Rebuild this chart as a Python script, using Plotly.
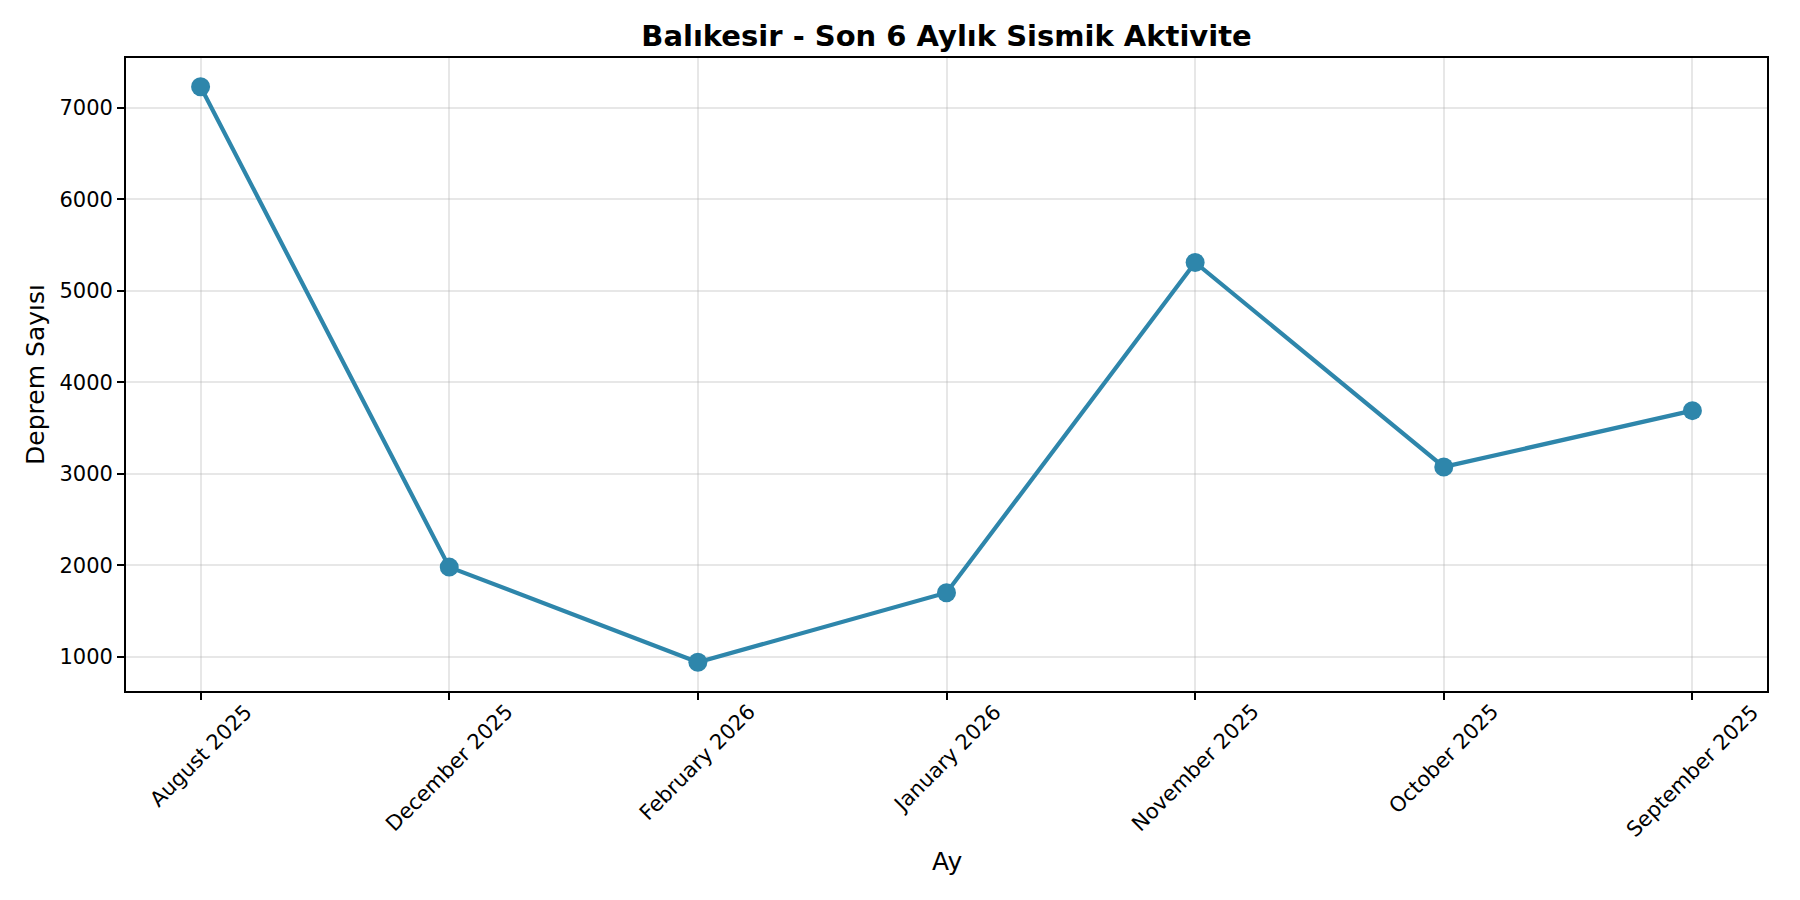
import plotly.graph_objects as go

# monthly earthquake counts, in the order the source chart lists them
months = ['August 2025', 'December 2025', 'February 2026', 'January 2026',
          'November 2025', 'October 2025', 'September 2025']
counts = [7230, 1980, 940, 1700, 5310, 3075, 3690]

line_color = '#2E86AB'
font_family = 'DejaVu Sans'

fig = go.Figure()
fig.add_trace(go.Scatter(
    x=months,
    y=counts,
    mode='lines+markers',
    line=dict(color=line_color, width=4.2),
    marker=dict(color=line_color, size=19),
    showlegend=False,
))

# --- rotated tick labels centred under each tick, like matplotlib ---
for m in months:
    fig.add_annotation(
        x=m, y=0, xref='x', yref='paper',
        text=m, showarrow=False, textangle=-45,
        xanchor='center', yanchor='top', yshift=-6,
        font=dict(family=font_family, size=21, color='black'),
    )

fig.add_annotation(
    x=0.5, y=0, xref='paper', yref='paper',
    text='Ay', showarrow=False,
    xanchor='center', yanchor='middle', yshift=-170,
    font=dict(family=font_family, size=25, color='black'),
)

axis_style = dict(
    showline=True, linecolor='black', linewidth=1.7, mirror=True,
    ticks='outside', ticklen=7, tickwidth=1.7, tickcolor='black',
    showgrid=True, gridcolor='rgba(176,176,176,0.3)', gridwidth=1.7,
    zeroline=False,
)

fig.update_layout(
    width=1800, height=900,
    margin=dict(l=118, r=41, t=50, b=217),
    plot_bgcolor='white', paper_bgcolor='white',
    font=dict(family=font_family, color='black'),
    title=dict(
        text='<b>Balıkesir - Son 6 Aylık Sismik Aktivite</b>',
        x=0.5, xref='paper', xanchor='center',
        y=1 - 28 / 900, yanchor='middle',
        font=dict(family=font_family, size=29, color='black'),
    ),
    xaxis=dict(axis_style, range=[-0.3, 6.3], showticklabels=False),
    yaxis=dict(
        axis_style, range=[626, 7544], tickmode='linear', tick0=1000, dtick=1000,
        tickformat='d', tickfont=dict(size=21),
        title=dict(text='Deprem Sayısı', font=dict(size=25), standoff=8),
    ),
)

fig.write_html("out.html")
